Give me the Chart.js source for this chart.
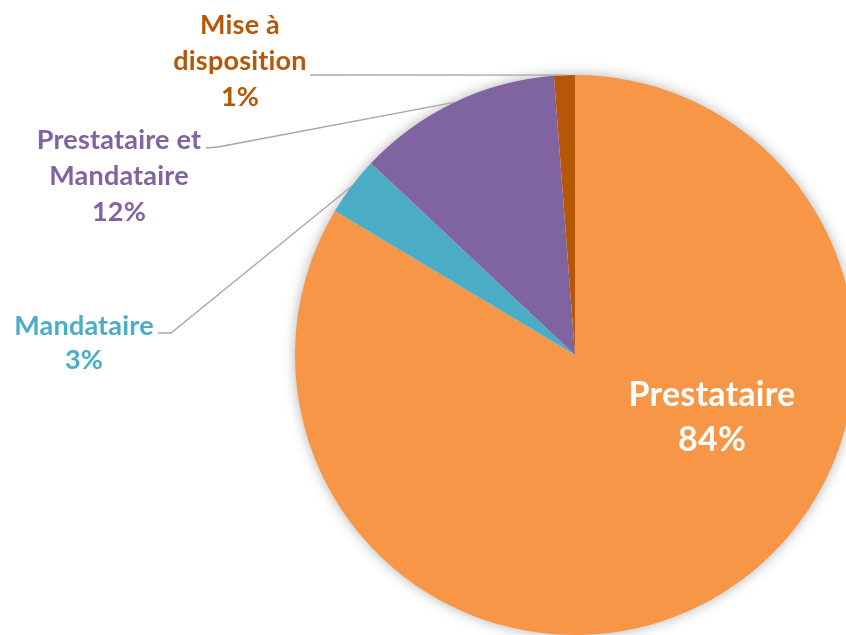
<!DOCTYPE html>
<html>
<head>
<meta charset="utf-8">
<script src="https://cdn.jsdelivr.net/npm/chart.js@4"></script>
<style>
  html, body { margin: 0; padding: 0; background: #fff; overflow: hidden; }
  #wrap { width: 846px; height: 635px; overflow: hidden; position: relative; }
</style>
</head>
<body>
<div id="wrap"><canvas id="pieChart" width="1150" height="710"></canvas></div>
<script>
const labels = ['Prestataire', 'Mandataire', 'Prestataire et Mandataire', 'Mise à disposition'];
const labelLines = [['Prestataire'], ['Mandataire'], ['Prestataire et', 'Mandataire'], ['Mise à', 'disposition']];
const values = [83.6, 3.4, 11.8, 1.2];
const colors = ['#F79646', '#4BACC6', '#8064A2', '#B65708'];

const FONT = 'Lato, "Open Sans", sans-serif';

// where each label sits (text centre x, first line y, leader start points)
const labelPlaces = [
  { x: 712, y: 395, gap: 45, size: 34, color: '#ffffff', inside: true },
  { x: 84, y: 326, gap: 34, size: 27, color: '#4BACC6', line: [[158, 333], [171, 333]] },
  { x: 119, y: 140, gap: 36, size: 27, color: '#8064A2', line: [[206, 148], [218, 147]] },
  { x: 240, y: 25, gap: 36, size: 27, color: '#B65708', line: [[310, 75]] }
];

const shadowPlugin = {
  id: 'pieShadow',
  beforeDatasetsDraw(chart) {
    const arc = chart.getDatasetMeta(0).data[0];
    if (!arc) return;
    const ctx = chart.ctx;
    ctx.save();
    ctx.shadowColor = 'rgba(0,0,0,0.35)';
    ctx.shadowBlur = 14;
    ctx.fillStyle = '#fff';
    ctx.beginPath();
    ctx.arc(arc.x, arc.y, arc.outerRadius - 1, 0, Math.PI * 2);
    ctx.fill();
    ctx.restore();
  }
};

const labelPlugin = {
  id: 'pieLabels',
  afterDatasetsDraw(chart) {
    const ctx = chart.ctx;
    const total = values.reduce((a, b) => a + b, 0);
    chart.getDatasetMeta(0).data.forEach((arc, i) => {
      const p = labelPlaces[i];
      const mid = (arc.startAngle + arc.endAngle) / 2;
      const ex = arc.x + Math.cos(mid) * arc.outerRadius;
      const ey = arc.y + Math.sin(mid) * arc.outerRadius;
      ctx.save();
      if (p.line) {
        ctx.strokeStyle = '#A6A6A6';
        ctx.lineWidth = 1.3;
        ctx.beginPath();
        ctx.moveTo(p.line[0][0], p.line[0][1]);
        for (let k = 1; k < p.line.length; k++) ctx.lineTo(p.line[k][0], p.line[k][1]);
        ctx.lineTo(ex, ey);
        ctx.stroke();
      }
      const lines = labelLines[i].concat([Math.round(values[i] / total * 100) + '%']);
      ctx.fillStyle = p.color;
      ctx.font = 'bold ' + p.size + 'px ' + FONT;
      ctx.letterSpacing = '0.2px';
      ctx.textAlign = 'center';
      ctx.textBaseline = 'middle';
      lines.forEach((t, k) => ctx.fillText(t, p.x, p.y + k * p.gap));
      ctx.restore();
    });
  }
};

new Chart(document.getElementById('pieChart'), {
  type: 'pie',
  data: {
    labels: labels,
    datasets: [{
      data: values,
      backgroundColor: colors,
      borderWidth: 0
    }]
  },
  options: {
    responsive: false,
    animation: false,
    layout: { padding: { left: 295, right: 295, top: 75, bottom: 75 } },
    plugins: {
      legend: { display: false },
      tooltip: { enabled: false }
    }
  },
  plugins: [shadowPlugin, labelPlugin]
});
</script>
</body>
</html>
